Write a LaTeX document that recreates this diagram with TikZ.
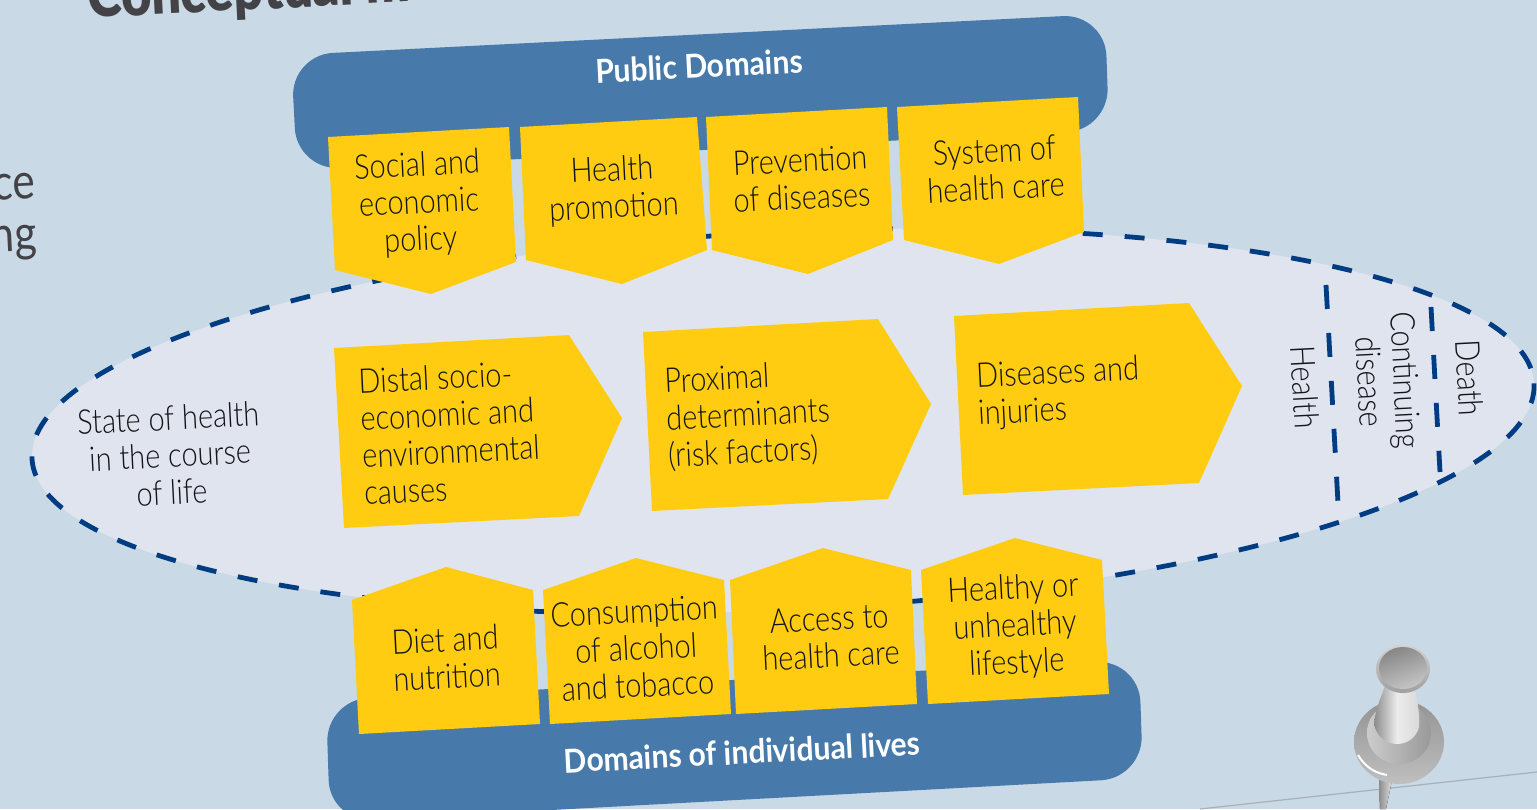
\documentclass[tikz,border=0pt]{standalone}
\usepackage{fontspec}
\setmainfont[FakeStretch=0.85]{Lato Light}
\newfontfamily\boldf[FakeStretch=0.91]{Lato Bold}
\newfontfamily\headf[FakeStretch=0.84]{Lato Black}
\newfontfamily\sidef[FakeStretch=0.85]{Lato}
\definecolor{bgc}{HTML}{C9D9E6}
\definecolor{barc}{HTML}{477AAB}
\definecolor{yel}{HTML}{FFCC11}
\definecolor{ell}{HTML}{DFE4EF}
\definecolor{dashc}{HTML}{003C82}
\definecolor{ink}{HTML}{141418}
\definecolor{headc}{HTML}{434347}
\tikzset{
  bar/.style={fill=barc,rounded corners=21pt},
  card/.style={fill=yel},
  lab/.style={text=ink,align=center,rotate=2.9,inner sep=0pt,font=\fontsize{17}{18.6}\selectfont},
  llab/.style={lab,align=left},
  vlab/.style={text=ink,align=center,rotate=-87.1,inner sep=0pt,font=\fontsize{17}{18}\selectfont},
  tlab/.style={text=white,rotate=2.9,inner sep=0pt,font=\fontsize{16.5}{18}\selectfont\boldf},
  divider/.style={draw=dashc,line width=2.4pt,dash pattern=on 12pt off 12pt},
  outline/.style={draw=dashc,line width=2.4pt,dash pattern=on 10pt off 11pt},
}
\begin{document}
\begin{tikzpicture}[x=0.5pt,y=-0.5pt]
\useasboundingbox (0,0) rectangle (1537,809);
\clip (0,0) rectangle (1537,809);
\fill[bgc] (0,0) rectangle (1537,809);
\draw[gray!45!bgc,line width=.6pt] (1200,809) -- (1537,772);
% fragments of surrounding text
\node[anchor=base west,rotate=2.9,inner sep=0pt,text=headc,font=\fontsize{31}{31}\selectfont\headf] (head) at (88,18) {Conceptual m};
\node[anchor=base east,rotate=2.9,inner sep=0pt,text=headc,font=\fontsize{25}{25}\selectfont\sidef] (fa) at (36,198) {ce};
\node[anchor=base east,rotate=2.9,inner sep=0pt,text=headc,font=\fontsize{25}{25}\selectfont\sidef] (fb) at (38,250) {ng};
% bars
\fill[bar] (291,55) -- (1105,14) -- (1109,130) -- (297,170) -- cycle;
\fill[bar] (326,700) -- (1139,660) -- (1143,778) -- (330,822) -- cycle;
% life course shape
\path[fill=ell,outline,rotate around={2.86:(783,421)}] (783,421) ellipse [x radius=752,y radius=189];
\draw[divider] (1326,285) -- (1338,503);
\draw[divider] (1431,307) -- (1440,472);
% cards
\fill[card] (328,137) -- (509,127) -- (516,262) -- (431,294) -- (335,270) -- cycle;
\fill[card] (520,127) -- (697,117) -- (707,250) -- (622,284) -- (526,260) -- cycle;
\fill[card] (706,117) -- (887,107) -- (893,240) -- (808,274) -- (712,250) -- cycle;
\fill[card] (897,107) -- (1078,97) -- (1084,232) -- (999,264) -- (904,240) -- cycle;
\fill[card] (334,348) -- (569,335) -- (622,418) -- (579,516) -- (344,528) -- cycle;
\fill[card] (643,332) -- (878,319) -- (931,404) -- (888,499) -- (652,511) -- cycle;
\fill[card] (954,316) -- (1189,303) -- (1242,386) -- (1199,483) -- (963,495) -- cycle;
\fill[card] (352,600) -- (446,567) -- (533,590) -- (540,724) -- (359,734) -- cycle;
\fill[card] (543,590) -- (636,558) -- (724,580) -- (731,714) -- (550,724) -- cycle;
\fill[card] (730,580) -- (823,548) -- (911,570) -- (917,704) -- (736,714) -- cycle;
\fill[card] (921,570) -- (1015,538) -- (1102,560) -- (1109,694) -- (928,704) -- cycle;
% labels
\node[tlab] (pub) at (699,66) {Public Domains};
\node[tlab] (ind) at (742,752) {Domains of individual lives};
\node[lab] (n1) at (419,204) {Social and\\economic\\policy};
\node[lab] (n2) at (613,190) {Health\\promotion};
\node[lab] (n3) at (801,178.5) {Prevention\\of diseases};
\node[lab] (n4) at (995,169) {System of\\health care};
\node[llab,anchor=west] (n5) at (361,437) {Distal socio-\\economic and\\environmental\\causes};
\node[llab,anchor=west] (n6) at (666,420) {Proximal\\determinants\\(risk factors)};
\node[llab,anchor=west] (n7) at (977,397) {Diseases and\\injuries};
\node[lab] (n8) at (446,658) {Diet and\\nutrition};
\node[lab] (n9) at (636,648) {Consumption\\of alcohol\\and tobacco};
\node[lab] (n10) at (830,637) {Access to\\health care};
\node[lab] (n11) at (1015,627) {Healthy or\\unhealthy\\lifestyle};
\node[lab] (n12) at (170,455) {State of health\\in the course\\of life};
\node[vlab] (v1) at (1305,387) {Health};
\node[vlab] (v2) at (1388,381) {Continuing\\disease};
\node[vlab] (v3) at (1470,378) {Death};
% pin
\fill[left color=gray!90,right color=gray!25] (1379,780) -- (1392,780) -- (1386,809) -- (1380,809) -- cycle;
\shade[top color=gray!85,bottom color=gray!50] (1399,742) ellipse [x radius=45,y radius=42];
\shade[left color=gray!40,right color=gray!80] (1399,733) ellipse [x radius=32,y radius=31];
\shade[left color=gray!90,right color=gray!30,middle color=gray!15] (1385,686) -- (1415,690) .. controls (1418,705) and (1420,715) .. (1419,727) .. controls (1414,748) and (1382,752) .. (1374,725) .. controls (1375,710) and (1380,700) .. (1385,686) -- cycle;
\draw[white,line width=1pt] (1358,755) .. controls (1365,767) and (1375,773) .. (1387,775);
\shade[top color=gray!35,bottom color=gray!75] (1403,669) ellipse [x radius=27,y radius=24];
\shade[left color=gray!95,right color=gray!45,shading angle=20] (1403,668) ellipse [x radius=24,y radius=21];
\end{tikzpicture}
\end{document}
